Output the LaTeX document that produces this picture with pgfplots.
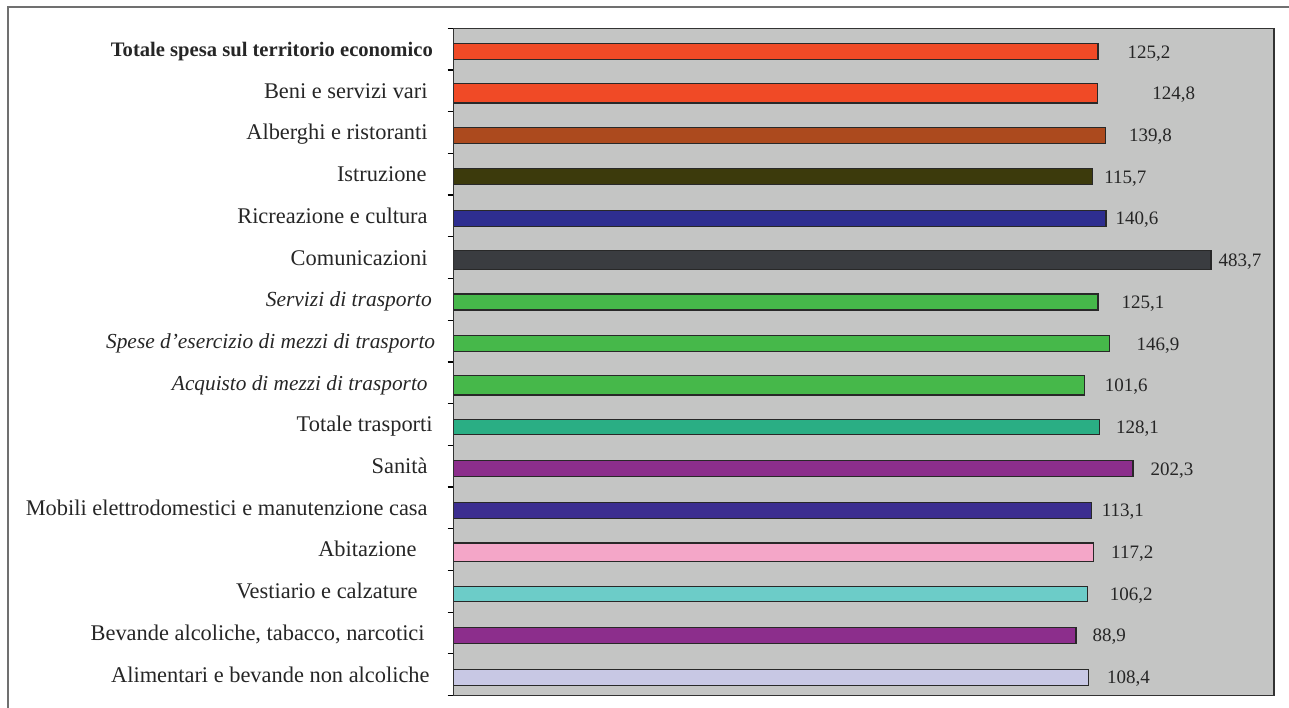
\documentclass[border=0pt]{standalone}
\usepackage{pgfplots}
\pgfplotsset{compat=1.18}
\usepackage{fontspec}
\setmainfont{Liberation Serif}

\definecolor{plotBg}{RGB}{196,197,196}
\definecolor{frameGray}{RGB}{112,112,112}
\definecolor{barEdge}{RGB}{40,40,40}
\definecolor{cRed}{RGB}{240,74,38}
\definecolor{cBrown}{RGB}{172,74,30}
\definecolor{cOlive}{RGB}{60,58,12}
\definecolor{cBlue}{RGB}{46,46,144}
\definecolor{cDark}{RGB}{58,60,64}
\definecolor{cGreen}{RGB}{70,184,74}
\definecolor{cTeal}{RGB}{42,174,132}
\definecolor{cPurple}{RGB}{140,46,140}
\definecolor{cIndigo}{RGB}{60,46,144}
\definecolor{cPink}{RGB}{244,166,200}
\definecolor{cCyan}{RGB}{108,204,200}
\definecolor{cLavender}{RGB}{200,200,228}

% one bar per category: colour, value, position, label gap, bar width
\newcommand{\catbar}[5]{%
  \addplot[fill=#1, draw=barEdge, line width=0.6pt, bar width=#5,
    every node near coord/.append style={xshift=#4}]
    coordinates {(#2,#3)};%
}

\begin{document}
\begin{tikzpicture}
\useasboundingbox (0,0) rectangle (644.5pt,353.5pt);
\draw[frameGray, line width=1pt] (4pt,-10pt) -- (4pt,350pt) -- (660pt,350pt);
\begin{axis}[
  at={(226.85pt,5.75pt)}, anchor=south west,
  scale only axis, width=410.15pt, height=333.6pt,
  xbar, bar shift=-1.3pt,
  % compressed horizontal scale of the original chart (0 stays at the left edge)
  x coord trafo/.code={%
    \pgfmathparse{(#1>0)*(max(#1,1)^0.3+7.887)}%
  },
  xmin=0, xmax=854,
  ymin=-0.5, ymax=15.5,
  xtick=\empty,
  ytick={0,...,15},
  minor ytick={-0.5,0.5,...,15.5},
  ytick pos=left,
  tick align=outside,
  major tick length=0pt,
  minor tick length=3pt,
  minor tick style={black, line width=0.6pt},
  axis background/.style={fill=plotBg},
  axis line style={draw=black!80, line width=0.7pt},
  yticklabel style={anchor=base east, inner sep=0pt, xshift=-12.85pt, yshift=-3.7pt,
    font=\fontsize{11.2}{13}\selectfont, text=black!85},
  yticklabels={
    Alimentari e bevande non alcoliche\kern-1pt,
    {Bevande alcoliche, tabacco, narcotici\kern1.5pt},
    Vestiario e calzature\kern5pt,
    Abitazione\kern5.5pt,
    Mobili elettrodomestici e manutenzione casa,
    Sanità,
    Totale trasporti\kern-2.5pt,
    {\fontsize{10.65}{13}\selectfont\itshape Acquisto di mezzi di trasporto},
    {\fontsize{10.7}{13}\selectfont\itshape Spese d’esercizio di mezzi di trasporto}\kern-3.8pt,
    {\fontsize{10.75}{13}\selectfont\itshape Servizi di trasporto}\kern-2.1pt,
    Comunicazioni,
    Ricreazione e cultura,
    Istruzione\kern0.5pt,
    Alberghi e ristoranti,
    Beni e servizi vari,
    {\fontsize{10.3}{13}\selectfont\bfseries Totale spesa sul territorio economico}\kern-2.6pt
  },
  point meta=rawx,
  nodes near coords={\pgfmathprintnumber[use comma,fixed,fixed zerofill,precision=1,assume math mode=true]{\pgfplotspointmeta}},
  every node near coord/.append style={anchor=base west, inner sep=0pt, yshift=-3.2pt,
    font=\fontsize{9.5}{11}\selectfont, text=black!85},
]
\catbar{cLavender}{108.4}{0}{9pt}{8pt}
\catbar{cPurple}{88.9}{1}{8pt}{8pt}
\catbar{cCyan}{106.2}{2}{11pt}{7.6pt}
\catbar{cPink}{117.2}{3}{8.5pt}{9.2pt}
\catbar{cIndigo}{113.1}{4}{5pt}{8pt}
\catbar{cPurple}{202.3}{5}{8.5pt}{8pt}
\catbar{cTeal}{128.1}{6}{8pt}{7.8pt}
\catbar{cGreen}{101.6}{7}{10pt}{9.6pt}
\catbar{cGreen}{146.9}{8}{13.5pt}{8pt}
\catbar{cGreen}{125.1}{9}{11.5pt}{8pt}
\catbar{cDark}{483.7}{10}{3.5pt}{9.6pt}
\catbar{cBlue}{140.6}{11}{4.5pt}{8pt}
\catbar{cOlive}{115.7}{12}{5.5pt}{8pt}
\catbar{cBrown}{139.8}{13}{11.5pt}{8pt}
\catbar{cRed}{124.8}{14}{27pt}{9.6pt}
\catbar{cRed}{125.2}{15}{14.5pt}{8pt}
\end{axis}
\end{tikzpicture}
\end{document}
